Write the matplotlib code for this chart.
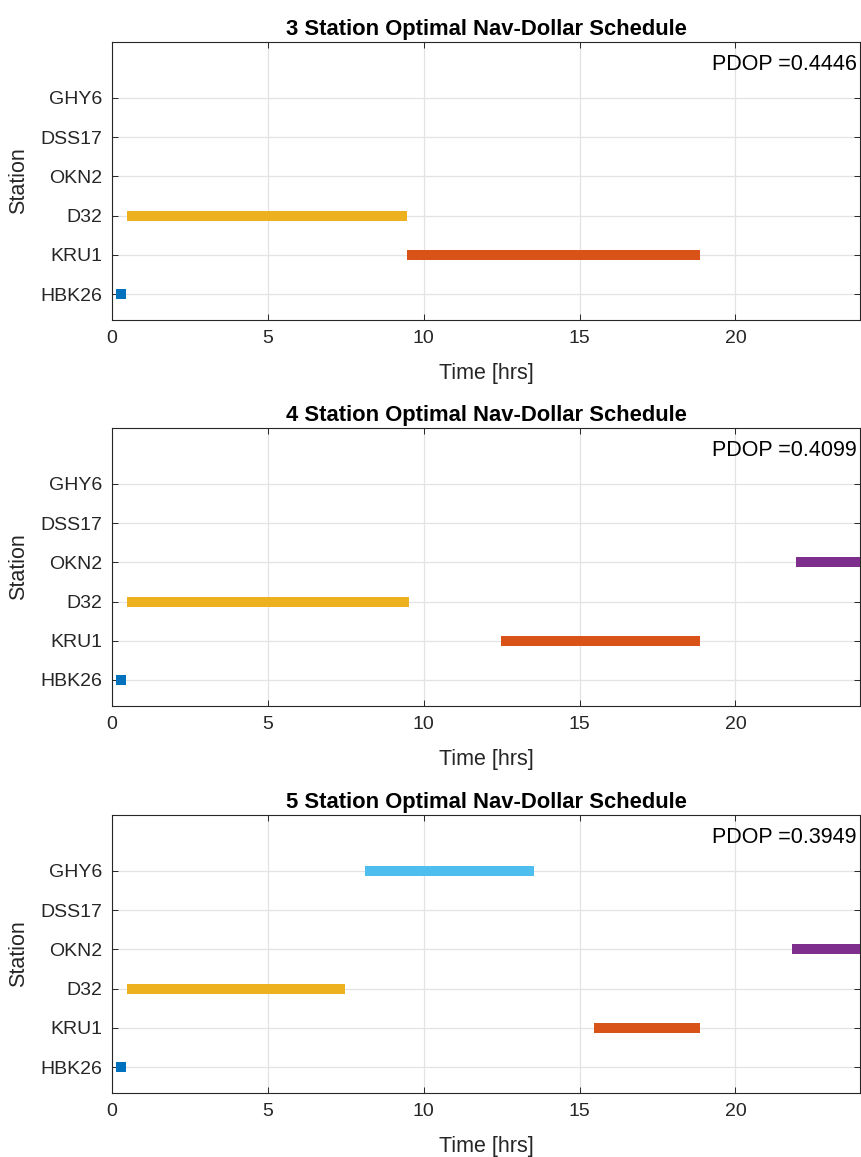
import numpy as np
import matplotlib
matplotlib.use("Agg")
import matplotlib.pyplot as plt

plt.rcParams['font.family'] = ['Liberation Sans', 'DejaVu Sans']

stations = ["HBK26", "KRU1", "D32", "OKN2", "DSS17", "GHY6"]
titulos = ["3 Station Optimal Nav-Dollar Schedule",
           "4 Station Optimal Nav-Dollar Schedule",
           "5 Station Optimal Nav-Dollar Schedule"]
pdops = [0.4446, 0.4099, 0.3949]

# cores padrao do matlab, uma por estacao
cores = {"HBK26": "#0072BD", "KRU1": "#D95319", "D32": "#EDB120",
         "OKN2": "#7E2F8E", "GHY6": "#4DBEEE"}

# (estacao, inicio, fim) em horas
sched3 = [("HBK26", 0.13, 0.45), ("D32", 0.49, 9.45), ("KRU1", 9.47, 18.87)]
sched4 = [("HBK26", 0.13, 0.45), ("D32", 0.49, 9.54), ("KRU1", 12.48, 18.87),
          ("OKN2", 21.93, 24.0)]
sched5 = [("HBK26", 0.13, 0.45), ("D32", 0.49, 7.49), ("KRU1", 15.45, 18.86),
          ("OKN2", 21.8, 24.0), ("GHY6", 8.13, 13.55)]
schedules = [sched3, sched4, sched5]

fig = plt.figure(figsize=(8.61, 11.57), dpi=100)
posicoes = [0.7234, 0.3898, 0.0553]

for i in range(3):
    ax = fig.add_axes([0.130, posicoes[i], 0.869, 0.2405])
    for st, t0, t1 in schedules[i]:
        y = stations.index(st) + 1
        ax.plot([t0, t1], [y, y], color=cores[st], linewidth=7.2,
                solid_capstyle="butt", zorder=3)
    ax.set_xlim(0, 24)
    ax.set_ylim(0.337, 7.43)
    ax.set_xticks([0, 5, 10, 15, 20])
    ax.set_yticks(np.arange(1, 7))
    ax.set_yticklabels(stations)
    ax.grid(True, color="#e3e3e3", linewidth=0.9)
    ax.set_axisbelow(True)
    ax.tick_params(direction="in", top=True, right=True, labelsize=14,
                   length=4, width=0.7, colors="#262626", pad=7)
    for lado in ax.spines.values():
        lado.set_color("#262626")
        lado.set_linewidth(0.8)
    ax.set_title(titulos[i], fontsize=15.8, fontweight="bold", pad=5)
    ax.set_xlabel("Time [hrs]", fontsize=15.5, color="#262626", labelpad=12)
    ax.set_ylabel("Station", fontsize=15.5, color="#262626", labelpad=8)
    ax.text(0.995, 0.955, "PDOP =%.4f" % pdops[i], transform=ax.transAxes,
            ha="right", va="top", fontsize=15.5, color="#000000")

plt.savefig("out.png", dpi=100)
